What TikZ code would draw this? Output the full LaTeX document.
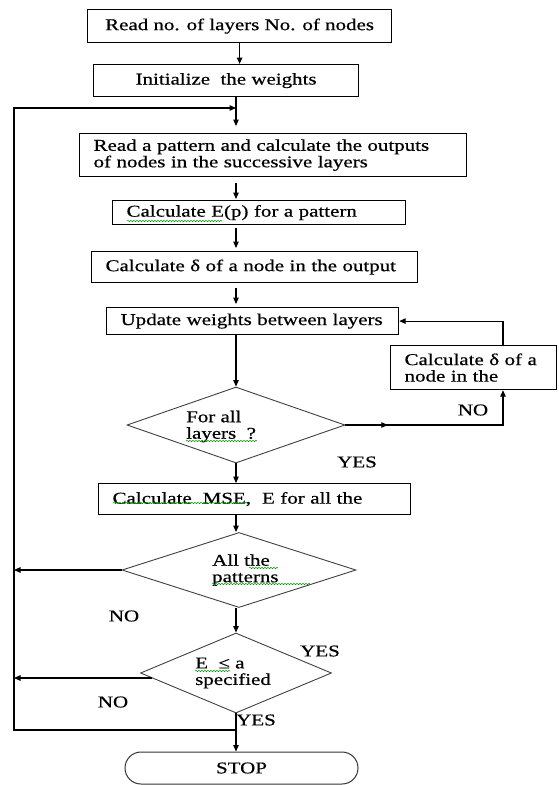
\documentclass[tikz,border=0pt]{standalone}
\usepackage{fontspec}
\setmainfont{Liberation Serif}[FakeStretch=1.27,FakeBold=0.6]
\usetikzlibrary{arrows.meta,shapes.geometric,decorations.pathmorphing,decorations.markings,calc}
\begin{document}
\begin{tikzpicture}[x=1pt,y=-1pt,
  every node/.style={font=\fontsize{16.5}{16.5}\selectfont, text=black},
  box/.style={draw=black, line width=1.2pt, inner ysep=0pt, inner xsep=14pt, align=left, anchor=north west},
  cbox/.style={draw=black, line width=1.2pt, inner sep=0pt, align=center, anchor=north west},
  dia/.style={draw=black!75, line width=0.9pt, diamond, inner sep=0pt},
  lbl/.style={inner sep=0pt},
  arr/.style={line width=1.1pt, -{Triangle[length=6.5pt,width=5.5pt]}},
  sq/.style={draw=green!60!black, line width=0.5pt, decorate, decoration={snake, amplitude=0.7pt, segment length=3pt}}
]
\useasboundingbox (0,0) rectangle (558,785);

% boxes
\node[cbox, minimum width=304pt, minimum height=33pt] (b1) at (87,9) {Read no. of layers No. of nodes};
\node[cbox, minimum width=265pt, minimum height=32pt] (b2) at (93,64) {Initialize~ the weights};
\node[box, text width=359pt, minimum height=43pt] (b3) at (79,133) {Read a pattern and calculate the outputs\\of nodes in the successive layers};
\node[box, text width=265pt, minimum height=24pt] (b4) at (112,200) {Calculate E(p) for a pattern};
\node[box, text width=298pt, minimum height=31pt] (b5) at (91,251) {Calculate δ of a node in the output};
\node[box, text width=264pt, minimum height=27pt] (b6) at (106,307) {Update weights between layers};
\node[box, text width=138pt, minimum height=44pt] (b7) at (390,345) {Calculate δ of a\\node in the};
\node[box, text width=284pt, minimum height=31pt] (b8) at (98,483) {Calculate~ MSE,~ E for all the};

% decisions
\node[dia, minimum width=218pt, minimum height=76pt] (d1) at (236,425) {};
\node[dia, minimum width=234pt, minimum height=75pt] (d2) at (239,570) {};
\node[dia, minimum width=191pt, minimum height=80pt] (d3) at (236,673) {};
\node[lbl, align=left, anchor=west] (d1t) at (186,426.5) {For all\\layers~ ?};
\node[lbl, align=left, anchor=west] (d2t) at (212,570) {All the\\patterns};
\node[lbl, align=left, anchor=west] (d3t) at (195,673) {E~ ≤ a\\specified};

% terminal
\node[draw=black!80, line width=1pt, rounded corners=16pt, minimum width=233pt, minimum height=32pt, inner sep=0pt] (stop) at (241.5,768) {STOP};

% labels
\node[lbl] (no1) at (473,410) {NO};
\node[lbl] (yes1) at (357,462) {YES};
\node[lbl] (no2) at (124,616) {NO};
\node[lbl] (yes2) at (320,651) {YES};
\node[lbl] (no3) at (113,702) {NO};
\node[lbl] (yes3) at (256,720) {YES};

% helper coordinates
\coordinate (mx) at (236,0);
\coordinate (lx) at (14,0);
\coordinate (rx) at (503,0);
\coordinate (lp) at (236,108);
\coordinate (jn) at (236,730);
\coordinate (d3l) at ($(d3.west)+(12,5)$);

% connectors
\draw[arr] (b1.south) -- (b1.south |- b2.north);
\draw[arr, shorten >=7pt] (mx |- b2.south) -- (mx |- b3.north);
\draw[arr, shorten <=6pt, shorten >=1pt] (mx |- b3.south) -- (mx |- b4.north);
\draw[arr, shorten <=3pt, shorten >=3pt] (mx |- b4.south) -- (mx |- b5.north);
\draw[arr, shorten <=5pt, shorten >=3pt] (mx |- b5.south) -- (mx |- b6.north);
\draw[arr] (mx |- b6.south) -- (d1.north);
\draw[arr] (d1.south) -- (mx |- b8.north);
\draw[arr] (mx |- b8.south) -- (mx |- d2.north);
\draw[arr] (mx |- d2.south) -- (d3.north);
\draw[arr] (d3.south) -- (mx |- stop.north);
\draw[arr] (jn) -- (lx |- jn) -- (lx |- lp) -- (lp);
\draw[arr] (d2.west) -- (lx |- d2.west);
\draw[arr] (d3l) -- (lx |- d3l);
\draw[arr, postaction={decorate}, decoration={markings, mark=at position 0.22 with {\arrow{Triangle[length=6.5pt,width=5.5pt]}}}]
  (d1.east) -- (rx |- d1.east) -- (rx |- b7.south);
\draw[arr] (rx |- b7.north) -- (rx |- b6.east) -- (b6.east);

% spell-check squiggles
\draw[sq] (127,221) -- (222,221);
\draw[sq] (113,503) -- (247,503);
\draw[sq] (186,441) -- (257,441);
\draw[sq] (249,568) -- (278,568);
\draw[sq] (212,584) -- (310,584);
\draw[sq] (195,671) -- (230,671);
\end{tikzpicture}
\end{document}
